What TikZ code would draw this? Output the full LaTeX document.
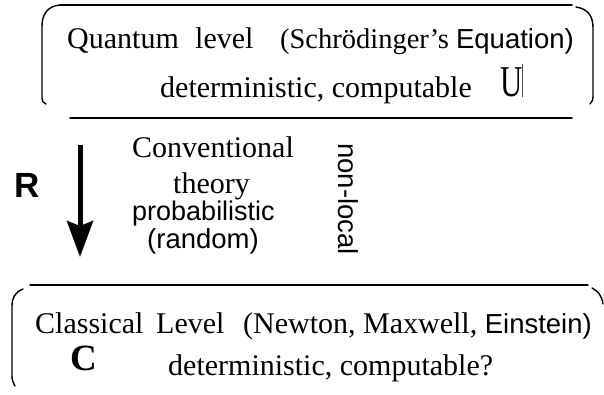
\documentclass[tikz,border=0pt]{standalone}
\usepackage{fontspec}
\usepackage{graphicx}
\setmainfont{Liberation Serif}
\newfontfamily\arial{Liberation Sans}
\usetikzlibrary{arrows.meta}
\begin{document}
\begin{tikzpicture}[x=1pt,y=-1pt,
  serif/.style={font=\fontsize{30}{34}\selectfont, inner sep=0, anchor=base west},
  sans/.style={font=\arial\fontsize{27.5}{32}\selectfont, inner sep=0, anchor=base west},
  outline/.style={line width=1.4pt, line cap=round},
  arrowline/.style={line width=5pt, -{Stealth[length=36pt,width=26pt,inset=5pt]}}]
\useasboundingbox (0,0) rectangle (604,394);
% top box
\draw[outline] (60,5) -- (572,5);
\draw[outline] (60,5) .. controls (48,6) and (42,14) .. (42,26) -- (42,98) .. controls (42,101) and (43,103) .. (46,104);
\draw[outline] (576,7) .. controls (588,9) and (593,16) .. (593,28) -- (593,96) .. controls (593,100) and (592,102) .. (590,104);
\draw[outline] (70,118) -- (572,118);
% top texts
\node[serif] (quantum) at (67,48) {Quantum};
\node[serif] (level) at (195,48) {level};
\node[serif, anchor=base east, font=\fontsize{28.5}{32}\selectfont] (schr) at (574,48) {(Schrödinger's {\arial\fontsize{27.5}{32}\selectfont Equation)}};
\node[serif] (det1) at (160,97) {deterministic, computable};
\node[inner sep=0, anchor=base west] (U) at (500,96) {\scalebox{0.7}[1]{\fontsize{44}{48}\selectfont U}};
\draw[line width=0.8pt, black!70] (522,64) -- (522,97);
% middle
\node[inner sep=0, anchor=base west, font=\arial\bfseries\fontsize{35}{40}\selectfont] (R) at (14,197) {R};
\coordinate (rtop) at (80,145);
\coordinate (rbot) at (80,257);
\draw[arrowline] (rtop) -- (rbot);
\node[serif] (conv) at (132,157) {Conventional};
\node[serif] (theory) at (173,193) {theory};
\node[sans, font=\arial\fontsize{27}{32}\selectfont] (prob) at (132,220) {probabilistic};
\node[sans] (random) at (147,248) {(random)};
\node[sans, anchor=center, rotate=-90] (nonlocal) at (348,199) {non-local};
% bottom box
\draw[outline] (30,285) -- (588,285);
\draw[outline] (23,289) .. controls (15,292) and (12,298) .. (12,306) -- (12,376) .. controls (12,380) and (13,383) .. (15,386);
\draw[outline] (592,288) .. controls (598,291) and (602,296) .. (603,304);
\node[serif] (classical) at (35,333) {Classical};
\node[serif] (Level) at (156,333) {Level};
\node[serif, anchor=base east] (names) at (592,333) {(Newton, Maxwell, {\arial\fontsize{27.5}{32}\selectfont Einstein)}};
\node[inner sep=0, anchor=base west, font=\bfseries\fontsize{37}{40}\selectfont] (C) at (70,370) {C};
\node[serif] (det2) at (168,375) {deterministic, computable?};
\end{tikzpicture}
\end{document}
